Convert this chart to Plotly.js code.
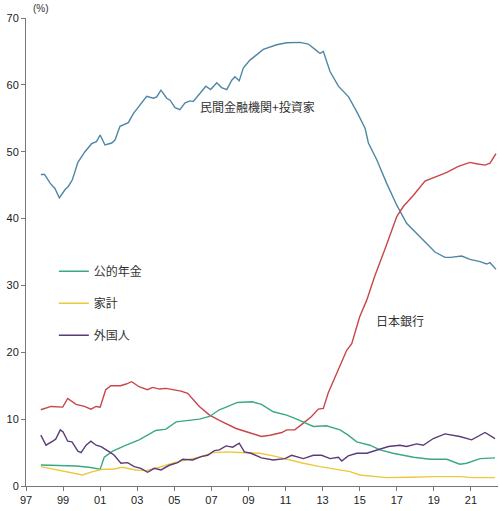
<!DOCTYPE html>
<html>
<head>
<meta charset="utf-8">
<script src="https://cdn.plot.ly/plotly-3.0.1.min.js"></script>
<style>html,body{margin:0;padding:0;background:#fff;}#chart{width:500px;height:511px;}</style>
</head>
<body>
<div id="chart"></div>
<script>
// ---- data (year as decimal, % share) ----
const privX = [1997.8,1998.0,1998.3,1998.56,1998.8,1999.1,1999.28,1999.5,1999.8,2000.18,2000.54,2000.8,2001.0,2001.26,2001.62,2001.8,2002.07,2002.34,2002.52,2002.79,2003.15,2003.51,2003.87,2004.05,2004.28,2004.59,2004.77,2005.04,2005.3,2005.58,2005.85,2006.02,2006.38,2006.7,2006.96,2007.29,2007.55,2007.83,2008.1,2008.27,2008.5,2008.72,2009.08,2009.8,2010.52,2011.06,2011.78,2012.23,2012.59,2012.86,2013.04,2013.4,2013.85,2014.4,2014.84,2015.29,2015.47,2015.92,2016.45,2017.0,2017.53,2018.07,2018.97,2019.06,2019.6,2019.9,2020.5,2020.95,2021.49,2021.85,2022.03,2022.35];
const privY = [46.6,46.6,45.3,44.5,43.1,44.3,44.8,45.8,48.4,50.0,51.2,51.5,52.5,51.0,51.3,51.75,53.8,54.2,54.35,55.7,57.0,58.3,58.0,58.2,59.2,58.0,57.7,56.6,56.3,57.3,57.6,57.5,58.7,59.8,59.3,60.3,59.6,59.3,60.7,61.2,60.6,62.5,63.7,65.3,66.0,66.3,66.35,66.1,65.3,64.7,65.0,62.0,59.8,58.2,56.0,53.5,51.3,48.8,45.3,42.0,39.3,37.8,35.3,35.0,34.2,34.2,34.4,33.9,33.55,33.2,33.4,32.4];

const bojX = [1997.8,1998.35,1998.98,1999.25,1999.7,2000.15,2000.5,2000.78,2001.0,2001.3,2001.58,2002.1,2002.4,2002.7,2003.1,2003.55,2003.83,2004.2,2004.55,2005.0,2005.36,2005.72,2006.35,2006.9,2007.43,2008.33,2009.05,2009.7,2010.16,2010.8,2011.06,2011.5,2011.96,2012.4,2012.77,2013.04,2013.3,2013.8,2014.3,2014.57,2015.0,2015.38,2015.8,2016.36,2017.0,2017.35,2017.9,2018.52,2019.15,2019.7,2020.32,2020.95,2021.3,2021.76,2022.03,2022.35];
const bojY = [11.4,11.9,11.8,13.1,12.2,11.9,11.5,11.9,11.8,14.4,15.0,15.0,15.25,15.6,14.85,14.4,14.75,14.5,14.6,14.4,14.2,13.85,11.9,10.6,9.8,8.6,8.0,7.4,7.6,8.0,8.4,8.4,9.4,10.4,11.5,11.6,13.9,17.1,20.3,21.3,25.3,27.8,31.3,35.4,40.3,41.8,43.5,45.6,46.3,46.9,47.8,48.4,48.2,48.0,48.3,49.7];

const pensionX = [1997.8,1999.0,1999.7,2000.4,2001.0,2001.22,2001.68,2002.4,2003.1,2004.0,2004.55,2005.1,2005.8,2006.35,2006.9,2007.43,2007.8,2008.4,2009.2,2009.7,2010.34,2011.06,2011.6,2011.96,2012.5,2013.2,2013.94,2014.38,2014.84,2015.55,2016.09,2016.8,2017.9,2018.8,2019.7,2020.4,2020.77,2021.5,2022.3];
const pensionY = [3.14,3.04,3.0,2.8,2.5,4.3,5.2,6.1,6.9,8.3,8.5,9.6,9.8,10.0,10.4,11.4,11.8,12.5,12.6,12.2,11.1,10.6,10.0,9.6,8.9,9.0,8.4,7.6,6.6,6.1,5.4,4.9,4.3,4.0,4.0,3.25,3.4,4.1,4.2];

const householdX = [1997.8,1998.8,1999.5,2000.05,2000.6,2001.14,2001.68,2002.2,2002.93,2003.47,2004.2,2004.9,2005.63,2006.35,2007.07,2007.8,2008.5,2009.6,2010.34,2011.06,2011.96,2012.86,2013.76,2014.48,2015.0,2015.73,2016.45,2017.7,2018.97,2020.4,2021.1,2022.3];
const householdY = [2.9,2.3,1.9,1.65,2.15,2.5,2.5,2.8,2.4,2.3,2.8,3.4,3.9,4.3,5.0,5.1,5.0,4.9,4.5,4.0,3.4,2.9,2.5,2.15,1.65,1.4,1.25,1.3,1.4,1.4,1.25,1.25];

const foreignX = [1997.8,1998.08,1998.44,1998.6,1998.85,1999.0,1999.25,1999.48,1999.8,1999.97,2000.24,2000.5,2000.78,2001.05,2001.5,2001.76,2002.12,2002.48,2002.84,2003.2,2003.56,2003.92,2004.28,2004.73,2005.18,2005.45,2005.99,2006.44,2006.8,2007.16,2007.43,2007.79,2008.15,2008.5,2008.78,2009.14,2009.7,2010.34,2010.97,2011.33,2011.96,2012.5,2012.95,2013.4,2013.85,2014.03,2014.38,2014.84,2015.38,2015.92,2016.55,2017.17,2017.53,2018.07,2018.43,2018.97,2019.6,2020.4,2021.04,2021.76,2022.3];
const foreignY = [7.6,6.1,6.7,7.0,8.4,8.1,6.7,6.6,5.2,5.0,6.1,6.7,6.1,5.9,5.1,4.6,3.4,3.5,2.9,2.65,2.05,2.65,2.4,3.1,3.5,4.0,3.9,4.4,4.6,5.3,5.4,6.0,5.8,6.4,5.1,4.9,4.2,3.9,4.1,4.6,4.1,4.6,4.6,4.1,4.3,3.75,4.5,4.9,4.9,5.4,5.9,6.1,5.9,6.3,6.1,7.1,7.8,7.4,6.9,8.0,7.1];

const tickVals = [1997,1999,2001,2003,2005,2007,2009,2011,2013,2015,2017,2019,2021];
const tickText = ["97","99","01","03","05","07","09","11","13","15","17","19","21"];
const yTicks = [0,10,20,30,40,50,60,70];

const labelPrivate = "民間金融機関+投資家";
const labelBoj = "日本銀行";
const labelPension = "公的年金";
const labelHousehold = "家計";
const labelForeign = "外国人";

const cjk = '"Noto Sans CJK JP", "Liberation Sans", sans-serif';
const lw = 1.4;

const traces = [
  {x: privX, y: privY, name: labelPrivate, mode: 'lines', line: {color: '#4f86a6', width: lw}, showlegend: false},
  {x: bojX, y: bojY, name: labelBoj, mode: 'lines', line: {color: '#c9454a', width: lw}, showlegend: false},
  {x: pensionX, y: pensionY, name: labelPension, mode: 'lines', line: {color: '#3aa883', width: lw}, legendgroup: 'a'},
  {x: householdX, y: householdY, name: labelHousehold, mode: 'lines', line: {color: '#ecc93c', width: lw}, legendgroup: 'b'},
  {x: foreignX, y: foreignY, name: labelForeign, mode: 'lines', line: {color: '#5b3a7a', width: lw}, legendgroup: 'c'}
];

const layout = {
  width: 500, height: 511,
  margin: {l: 26, r: 2, t: 18, b: 25},
  paper_bgcolor: '#ffffff', plot_bgcolor: '#ffffff',
  font: {family: cjk, size: 12, color: '#333'},
  showlegend: true,
  legend: {x: 0.059, y: 0.49, xanchor: 'left', yanchor: 'top', traceorder: 'grouped', tracegroupgap: 13,
           itemwidth: 30, bgcolor: 'rgba(0,0,0,0)', font: {family: cjk, size: 12, color: '#333'}},
  xaxis: {range: [1997, 2022.46], tickvals: tickVals, ticktext: tickText, showgrid: false, zeroline: false,
          showline: true, linecolor: '#777', linewidth: 1, ticks: 'outside', ticklen: 4, tickcolor: '#777',
          tickfont: {family: '"Liberation Sans", Arial, sans-serif', size: 11, color: '#222'}},
  yaxis: {range: [0, 70], tickvals: yTicks, showgrid: false, zeroline: false,
          showline: true, linecolor: '#777', linewidth: 1, ticks: 'outside', ticklen: 4, tickcolor: '#777',
          tickfont: {family: '"Liberation Sans", Arial, sans-serif', size: 11, color: '#222'}},
  annotations: [
    {xref: 'paper', yref: 'paper', x: 0.01, y: 1.005, xanchor: 'left', yanchor: 'bottom', text: '(%)', showarrow: false,
     font: {family: '"Liberation Sans", Arial, sans-serif', size: 10, color: '#333'}},
    {x: 2009.5, y: 56.8, text: labelPrivate, showarrow: false, font: {family: cjk, size: 12, color: '#333'}},
    {x: 2017.17, y: 24.8, text: labelBoj, showarrow: false, font: {family: cjk, size: 12, color: '#333'}}
  ]
};

Plotly.newPlot('chart', traces, layout, {staticPlot: true, displayModeBar: false});
</script>
</body>
</html>
